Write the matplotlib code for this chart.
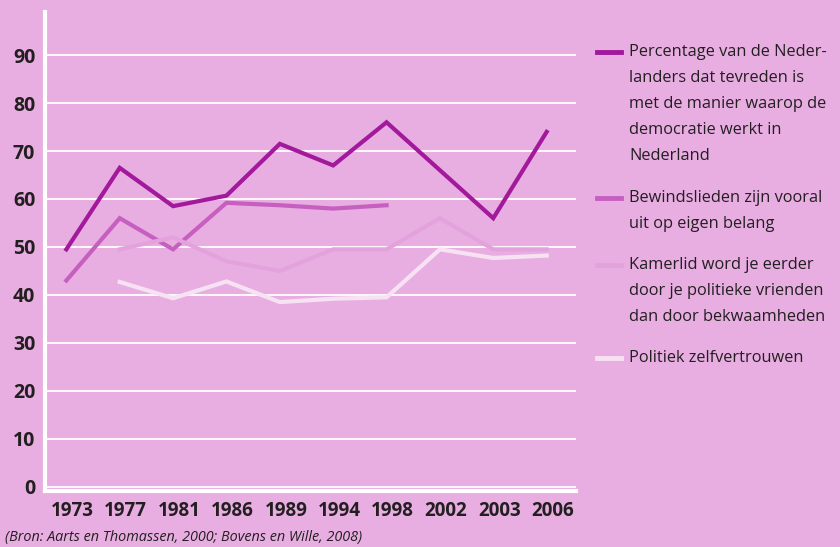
import matplotlib
matplotlib.use("Agg")
import matplotlib.pyplot as plt
import matplotlib.transforms as mtransforms
from matplotlib.lines import Line2D
import numpy as np

years = ["1973", "1977", "1981", "1986", "1989", "1994", "1998", "2002", "2003", "2006"]
tevreden = [49.5, 66.5, 58.5, 60.7, 71.5, 67.0, 76.0, 66.0, 56.0, 74.0]
eigen_belang = [43.0, 56.0, 49.5, 59.2, 58.7, 58.0, 58.7, None, None, None]
vrienden = [None, 49.5, 52.0, 47.0, 45.0, 49.5, 49.5, 56.0, 49.5, 49.5]
zelfvertrouwen = [None, 42.7, 39.3, 42.8, 38.5, 39.2, 39.5, 49.5, 47.7, 48.2]

labels = [
    ["Percentage van de Neder-", "landers dat tevreden is", "met de manier waarop de",
     "democratie werkt in", "Nederland"],
    ["Bewindslieden zijn vooral", "uit op eigen belang"],
    ["Kamerlid word je eerder", "door je politieke vrienden", "dan door bekwaamheden"],
    ["Politiek zelfvertrouwen"],
]
colors = ["#a2199c", "#c65fc0", "#e3a2dc", "#f7e2f3"]
series = [tevreden, eigen_belang, vrienden, zelfvertrouwen]

bg = "#e8aee2"
txt = "#231f20"
plt.rcParams["font.family"] = ["Open Sans", "DejaVu Sans"]

fig = plt.figure(figsize=(8.4, 5.47), dpi=100, facecolor=bg)
ax = fig.add_axes([45 / 840, 1 - 491 / 547, (576 - 45) / 840, (491 - 12) / 547])
ax.set_facecolor(bg)

x = np.arange(len(years))
for vals, c in zip(series, colors):
    y = np.array([np.nan if v is None else v for v in vals])
    ax.plot(x, y, color=c, lw=3, solid_joinstyle="miter", zorder=3)

ax.set_ylim(-0.9, 99)
ax.set_xlim(-0.4, 9.55)
ax.set_yticks(range(0, 100, 10))
ax.yaxis.grid(True, color="white", lw=1.3)
ax.set_axisbelow(True)
ax.tick_params(axis="y", length=0, labelsize=14, colors=txt, pad=7)
ax.tick_params(axis="x", length=0, labelsize=13.5, colors=txt, pad=7)
ax.set_xticks(x)
ax.set_xticklabels(years, fontweight="bold")
for lab in ax.get_yticklabels():
    lab.set_fontweight("bold")
shift = mtransforms.ScaledTranslation(6 / 100, 0, fig.dpi_scale_trans)
for lab in ax.get_xticklabels():
    lab.set_transform(lab.get_transform() + shift)

for side in ["top", "right"]:
    ax.spines[side].set_visible(False)
for side in ["left", "bottom"]:
    ax.spines[side].set_color("white")
    ax.spines[side].set_linewidth(3)

# legend drawn by hand, one text per line
tops = [51.7, 198, 265, 358]
step = 26.2
for lines, c, ty in zip(labels, colors, tops):
    yf = 1 - ty / 547
    fig.add_artist(Line2D([597 / 840, 621 / 840], [yf, yf], color=c, lw=3.5))
    for i, line in enumerate(lines):
        fig.text(629 / 840, 1 - (ty + i * step) / 547, line, ha="left", va="center",
                 fontsize=11.8, color=txt)

fig.text(5 / 840, 1 - 537 / 547, "(Bron: Aarts en Thomassen, 2000; Bovens en Wille, 2008)",
         fontsize=10.4, style="italic", color=txt, va="center")

fig.savefig("out.png", dpi=100, facecolor=bg)
